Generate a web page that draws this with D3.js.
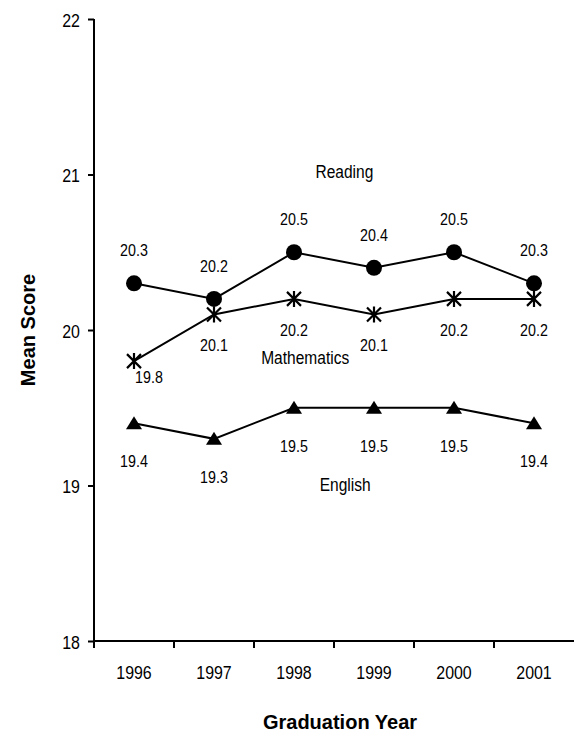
<!DOCTYPE html>
<html>
<head>
<meta charset="utf-8">
<script src="https://cdn.jsdelivr.net/npm/d3@7"></script>
<style>
  html, body { margin: 0; padding: 0; background: #fff; }
  svg { display: block; }
  text { font-family: "Liberation Sans", Arial, sans-serif; fill: #000; }
</style>
</head>
<body>
<svg id="chart" width="574" height="738"></svg>
<script>
// ---- data ----
const years = ["1996", "1997", "1998", "1999", "2000", "2001"];
const reading = [20.3, 20.2, 20.5, 20.4, 20.5, 20.3];
const mathematics = [19.8, 20.1, 20.2, 20.1, 20.2, 20.2];
const english = [19.4, 19.3, 19.5, 19.5, 19.5, 19.4];
const yTicks = [18, 19, 20, 21, 22];
const seriesNames = ["Reading", "Mathematics", "English"];

// ---- layout ----
const svg = d3.select("#chart");
const mLeft = 94, mRight = 574, mTop = 19, mBottom = 641;
const NARROW = 0.84;

const x = d3.scaleBand().domain(years).range([mLeft, mRight]).padding(0);
const xc = d => x(d) + x.bandwidth() / 2;
const xi = d3.scaleLinear().domain([0, years.length - 1]).range([xc(years[0]), xc(years[years.length - 1])]);
const y = d3.scaleLinear().domain([18, 22]).range([mBottom, mTop]);

// condensed text helper (emulates a narrow face)
function narrowText(sel, fx, fy) {
  sel.attr("x", 0).attr("y", 0)
    .attr("transform", (d, i) => `translate(${fx(d, i)},${fy(d, i)}) scale(${NARROW},1)`);
}

// ---- y axis ----
const yAxis = svg.append("g").attr("transform", `translate(${mLeft},0)`)
  .call(d3.axisLeft(y).tickValues(yTicks).tickSize(6).tickPadding(9).tickFormat(d3.format("d")));
yAxis.select(".domain").attr("stroke", "#000").attr("stroke-width", 2).attr("d", `M0,${mTop}V${mBottom}`);
yAxis.selectAll(".tick line").attr("stroke", "#000").attr("stroke-width", 2);
yAxis.selectAll(".tick text").attr("dy", null).attr("dominant-baseline", null)
  .style("font-size", "19px").style("font-family", "'Liberation Sans', Arial, sans-serif");
narrowText(yAxis.selectAll(".tick text"), () => -14, () => 7);

// ---- x axis ----
const xg = svg.append("g").attr("transform", `translate(0,${mBottom})`);
xg.append("line").attr("x1", mLeft).attr("x2", mRight).attr("stroke", "#000").attr("stroke-width", 2);
xg.selectAll("line.tk").data(years).enter().append("line").attr("class", "tk")
  .attr("x1", d => x(d)).attr("x2", d => x(d)).attr("y1", 0).attr("y2", 7)
  .attr("stroke", "#000").attr("stroke-width", 2);
const xt = xg.selectAll("text").data(years).enter().append("text")
  .attr("text-anchor", "middle").style("font-size", "19px").text(d => d);
narrowText(xt, d => xc(d), () => 38);

// ---- axis titles ----
svg.append("text").attr("x", 340).attr("y", 729).attr("text-anchor", "middle")
  .style("font-size", "20px").style("font-weight", "bold").text("Graduation Year");
svg.append("text").attr("transform", `translate(35,${(mTop + mBottom) / 2}) rotate(-90)`)
  .attr("text-anchor", "middle").style("font-size", "20px").style("font-weight", "bold").text("Mean Score");

// ---- series ----
const line = d3.line().x((d, i) => xc(years[i])).y(d => y(d));
const series = [
  { name: seriesNames[0], values: reading, marker: "circle", dy: -27, nameAt: [2.63, 20.98] },
  { name: seriesNames[1], values: mathematics, marker: "star", dy: 37, nameAt: [2.14, 19.78] },
  { name: seriesNames[2], values: english, marker: "triangle", dy: 44, nameAt: [2.64, 18.965] }
];

series.forEach(s => {
  const g = svg.append("g");
  g.append("path").datum(s.values).attr("d", line)
    .attr("fill", "none").attr("stroke", "#000").attr("stroke-width", 2);

  const m = g.selectAll("g.m").data(s.values).enter().append("g")
    .attr("transform", (d, i) => `translate(${xc(years[i])},${y(d)})`);
  if (s.marker === "circle") {
    m.append("circle").attr("r", 8).attr("fill", "#000");
  } else if (s.marker === "triangle") {
    m.append("path").attr("d", "M0,-7L8,6L-8,6Z").attr("fill", "#000");
  } else {
    m.append("path").attr("d", "M0,-8V8M-7,-7L7,7M-7,7L7,-7")
      .attr("stroke", "#000").attr("stroke-width", 2.2).attr("fill", "none");
  }

  const vt = g.selectAll("text.v").data(s.values).enter().append("text").attr("class", "v")
    .attr("text-anchor", "middle").style("font-size", "17px")
    .text(d => d3.format(".1f")(d));
  narrowText(vt,
    (d, i) => xc(years[i]) + ((s.marker === "star" && i === 0) ? 15 : 0),
    (d, i) => y(d) + ((s.marker === "star" && i === 0) ? 22 : s.dy));

  const nt = g.append("text").attr("text-anchor", "middle").style("font-size", "18.5px").text(s.name);
  narrowText(nt, () => xi(s.nameAt[0]), () => y(s.nameAt[1]));
});
</script>
</body>
</html>
